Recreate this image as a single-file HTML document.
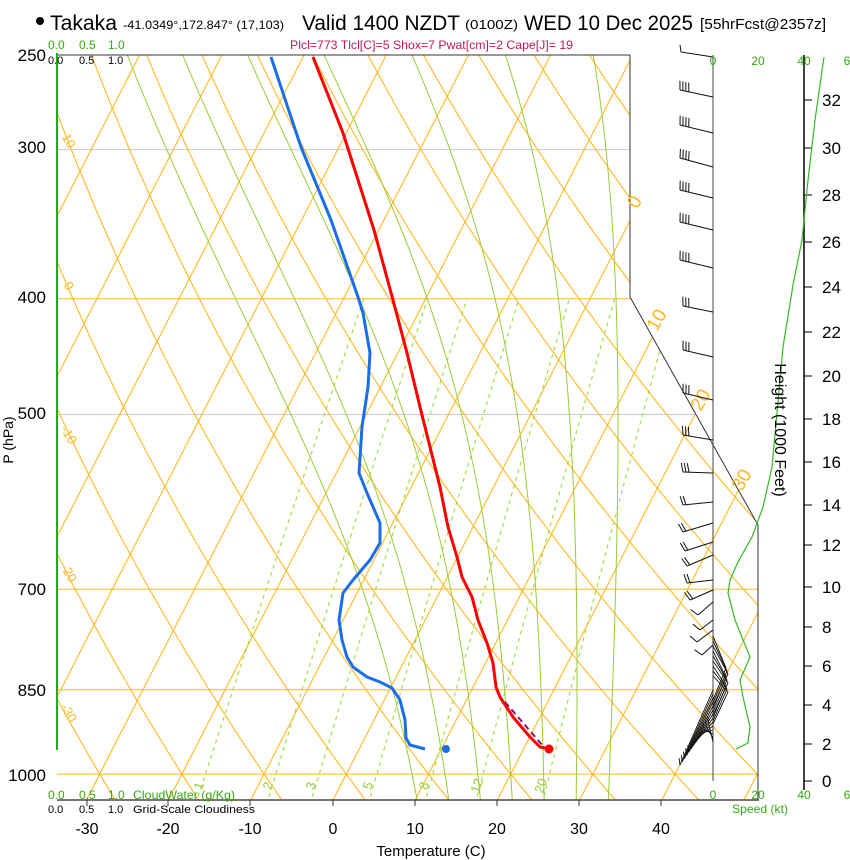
<!DOCTYPE html>
<html><head><meta charset="utf-8"><style>
html,body{margin:0;padding:0;background:#fff;}
svg{display:block;font-family:"Liberation Sans",sans-serif;}
</style></head><body>
<svg id="s" width="850" height="860" viewBox="0 0 850 860" xmlns="http://www.w3.org/2000/svg">
<defs><clipPath id="cp"><polygon points="57,55 630,55 630,297 758,525 758,800 57,800"/></clipPath></defs>
<g id="bg" clip-path="url(#cp)"></g>
<g id="fg"></g>
<!-- title -->
<circle cx="40" cy="21" r="4" fill="#000"/>
<text x="50" y="30" font-size="21" textLength="67" lengthAdjust="spacingAndGlyphs">Takaka</text>
<text x="123" y="29" font-size="12" textLength="161" lengthAdjust="spacingAndGlyphs">-41.0349°,172.847° (17,103)</text>
<text x="302" y="30" font-size="21" textLength="158" lengthAdjust="spacingAndGlyphs">Valid 1400 NZDT</text>
<text x="465" y="29" font-size="13" textLength="53" lengthAdjust="spacingAndGlyphs">(0100Z)</text>
<text x="524" y="30" font-size="21" textLength="169" lengthAdjust="spacingAndGlyphs">WED 10 Dec 2025</text>
<text x="700" y="29" font-size="15" textLength="126" lengthAdjust="spacingAndGlyphs">[55hrFcst@2357z]</text>
<text x="290" y="49" font-size="12" fill="#c0185a" textLength="283" lengthAdjust="spacingAndGlyphs">Plcl=773 Tlcl[C]=5 Shox=7 Pwat[cm]=2 Cape[J]= 19</text>
<g font-size="12" fill="#33aa11"><text x="48" y="49">0.0</text><text x="79" y="49">0.5</text><text x="108" y="49">1.0</text></g>
<g font-size="11" fill="#000"><text x="48" y="64">0.0</text><text x="79" y="64">0.5</text><text x="108" y="64">1.0</text></g>
<g font-size="12" fill="#33aa11"><text x="48" y="799">0.0</text><text x="79" y="799">0.5</text><text x="108" y="799">1.0</text><text x="133" y="799" textLength="102" lengthAdjust="spacingAndGlyphs">CloudWater (g/Kg)</text></g>
<g font-size="11" fill="#000"><text x="48" y="813">0.0</text><text x="79" y="813">0.5</text><text x="108" y="813">1.0</text><text x="133" y="813" textLength="122" lengthAdjust="spacingAndGlyphs">Grid-Scale Cloudiness</text></g>
<text x="732" y="813" font-size="12" fill="#33aa11" textLength="56" lengthAdjust="spacingAndGlyphs">Speed (kt)</text>
<g font-size="12" fill="#33aa11" text-anchor="middle"><text x="713" y="65">0</text><text x="758" y="65">20</text><text x="804" y="65">40</text><text x="847" y="65">6</text>
<text x="713" y="799">0</text><text x="758" y="799">20</text><text x="804" y="799">40</text><text x="847" y="799">6</text></g>
<g font-size="17" text-anchor="end"><text x="46" y="61">250</text><text x="46" y="153">300</text><text x="46" y="303">400</text><text x="46" y="419">500</text><text x="46" y="595">700</text><text x="46" y="696">850</text><text x="46" y="781">1000</text></g>
<text font-size="14" transform="translate(13,440) rotate(-90)" text-anchor="middle">P (hPa)</text>
<g font-size="16" text-anchor="middle"><text x="87" y="834">-30</text><text x="168" y="834">-20</text><text x="250" y="834">-10</text><text x="333" y="834">0</text><text x="415" y="834">10</text><text x="497" y="834">20</text><text x="579" y="834">30</text><text x="661" y="834">40</text></g>
<text x="431" y="856" font-size="15" text-anchor="middle">Temperature (C)</text>
<text font-size="16" transform="translate(775,430) rotate(90)" text-anchor="middle">Height (1000 Feet)</text>
</svg>
<script>
var NS="http://www.w3.org/2000/svg";
function Y(p){return 55+518.7*Math.log(p/250);}
function X(T,p){return 333+8.22*T+(800-Y(p))/1.95;}
var bg=document.getElementById('bg'),fg=document.getElementById('fg');
function el(par,tag,a,txt){var e=document.createElementNS(NS,tag);for(var k in a)e.setAttribute(k,a[k]);if(txt!==undefined)e.textContent=txt;par.appendChild(e);return e;}
function pl(par,pts,a){a.points=pts.map(function(q){return q[0].toFixed(1)+','+q[1].toFixed(1);}).join(' ');a.fill='none';return el(par,'polyline',a);}
var OR='#ffb820',GR='#99cc33';
// pressure lines
[[300,'#cccccc'],[500,'#cccccc'],[400,OR],[700,OR],[850,OR],[1000,OR]].forEach(function(a){var y=Y(a[0]);el(bg,'line',{x1:57,x2:760,y1:y,y2:y,stroke:a[1],'stroke-width':1});});
// isotherms
for(var T=-120;T<=60;T+=10){pl(bg,[[X(T,1060),Y(1060)],[X(T,240),Y(240)]],{stroke:OR,'stroke-width':1.1});}
// dry adiabats
for(var th=-60;th<=220;th+=10){var pts=[];for(var p=1060;p>=240;p-=10){var t=(th+273.15)*Math.pow(p/1000,0.2857)-273.15;pts.push([X(t,p),Y(p)]);}pl(bg,pts,{stroke:OR,'stroke-width':1.1});}
// moist adiabats
function es(t){return 6.112*Math.exp(17.67*t/(t+243.5));}
function dTdp(t,p){var Tk=t+273.15,e=es(t),rs=0.622*e/(p-e);return (287*Tk+2.5e6*rs)/(p*(1005+2.5e6*2.5e6*rs*0.622/(287*Tk*Tk)));}
[8,12,16,20,24,28,32].forEach(function(T0){var pts=[],t=T0,p;
 var down=[];t=T0;for(p=1000;p<=1060;p+=2){down.push([X(t,p),Y(p)]);t+=dTdp(t,p)*2;}
 t=T0;for(p=1000;p>=240;p-=2){pts.push([X(t,p),Y(p)]);t-=dTdp(t,p)*2;}
 pl(bg,down.reverse().concat(pts),{stroke:GR,'stroke-width':1});});
// mixing ratio
[1,2,3,5,8,12,20].forEach(function(w){var pts=[];for(var p=1060;p>=400;p-=20){var e=w*p/(622+w),l=Math.log(e/6.112),td=243.5*l/(17.67-l);pts.push([X(td,p),Y(p)]);}pl(bg,pts,{stroke:'#99dd33','stroke-width':1.1,'stroke-dasharray':'4,4'});});
// frame
el(fg,'polyline',{points:'57,55 630,55 630,297 758,525 758,800 57,800',fill:'none',stroke:'#333','stroke-width':1});
el(fg,'line',{x1:57,y1:800,x2:759,y2:800,stroke:'#554433','stroke-width':1.5});
el(fg,'line',{x1:57,y1:53,x2:57,y2:750,stroke:'#22aa22','stroke-width':2});
[87,168,250,333,415,497,579,661].forEach(function(x){el(fg,'line',{x1:x,x2:x,y1:800,y2:806,stroke:'#333'});});
// labels on lines
[['1',203,787],['2',272,787],['3',315,787],['5',372,787],['8',428,787],['12',481,787],['20',545,787]].forEach(function(a){el(fg,'text',{x:a[1],y:a[2],'font-size':13,fill:GR,'text-anchor':'middle',transform:'rotate(-72 '+a[1]+' '+a[2]+')'},a[0]);});
[['10',65,143],['0',65,288],['-10',65,437],['-20',65,575],['-30',65,715]].forEach(function(a){el(fg,'text',{x:a[1],y:a[2],'font-size':13,fill:OR,'text-anchor':'middle',transform:'rotate(60 '+a[1]+' '+a[2]+')'},a[0]);});
[['0',640,205],['10',662,323],['20',706,403],['30',747,483]].forEach(function(a){el(fg,'text',{x:a[1],y:a[2],'font-size':19,fill:OR,'text-anchor':'middle',transform:'rotate(-60 '+a[1]+' '+a[2]+')'},a[0]);});
// axes right
el(fg,'line',{x1:713,x2:713,y1:55,y2:781,stroke:'#444','stroke-width':1});
el(fg,'line',{x1:804,x2:804,y1:55,y2:790,stroke:'#000','stroke-width':1.5});
var H=[[0,781],[2,744],[4,705],[6,666],[8,627],[10,587],[12,545],[14,505],[16,462],[18,419],[20,376],[22,332],[24,287],[26,242],[28,195],[30,148],[32,100]];
H.forEach(function(h){el(fg,'line',{x1:804,x2:812,y1:h[1],y2:h[1],stroke:'#000'});el(fg,'text',{x:822,y:h[1]+6,'font-size':17},String(h[0]));});
// speed curve
pl(fg,[[824,57],[815,120],[808,180],[802,240],[793,285],[783,347],[777,413],[772,467],[763,507],[752,537],[738,562],[730,580],[728,593],[735,620],[750,657],[740,680],[743,697],[750,727],[748,743],[736,749]],{stroke:'#33bb22','stroke-width':1.2});
// wind barbs
function barb(y,x2,y2,n){var dx=x2-713,dy=y2-y,L=Math.sqrt(dx*dx+dy*dy),ux=dx/L,uy=dy/L,nx=-uy,ny=ux;if(ny>0){nx=-nx;ny=-ny;}
 el(fg,'line',{x1:713,y1:y,x2:x2,y2:y2,stroke:'#111','stroke-width':1});
 for(var i=0;i<n;i++){var bx=x2-ux*i*3,by=y2-uy*i*3;el(fg,'line',{x1:bx,y1:by,x2:bx+nx*9+ux*2,y2:by+ny*9+uy*2,stroke:'#111','stroke-width':1});}}
el(fg,'polyline',{points:'680,45 681,52 713,57',fill:'none',stroke:'#111'});
[[97,680,90,4],[133,680,125,4],[167,680,158,4],[198,680,190,4],[230,680,222,4],[268,680,260,4],[312,683,306,3],[357,683,350,3],[400,683,393,3],[440,683,435,3],[473,683,472,3],[502,683,505,2],[523,683,532,2],[542,685,551,2],[555,687,566,2],[580,687,583,2],[590,690,600,2],[602,698,615,1],[620,700,630,1],[630,697,642,1],[645,702,655,1]].forEach(function(b){barb(b[0],b[1],b[2],b[3]);});
for(var i=0;i<9;i++){pl(fg,[[713,636+i*5],[726+(i%3),668+i*3],[713,700+i*3]],{stroke:'#111','stroke-width':0.9});}
for(var i=0;i<14;i++){var y0=690+i*4,ex=680+i*2.2,ey=765-i*3.2;el(fg,'line',{x1:713,y1:y0,x2:ex,y2:ey,stroke:'#111','stroke-width':0.9});el(fg,'line',{x1:ex,y1:ey,x2:ex-1,y2:ey-7,stroke:'#111','stroke-width':0.9});}
// profiles
var blue=[[271,57],[301,147],[331,220],[358,297],[363,313],[370,353],[368,387],[362,427],[359,473],[367,493],[380,523],[380,543],[370,560],[353,580],[343,593],[339,620],[342,640],[347,657],[353,667],[367,677],[380,682],[392,688],[400,700],[405,720],[406,738],[410,745],[425,749]];
var red=[[313,57],[343,133],[374,230],[393,300],[407,353],[420,407],[430,447],[440,487],[448,527],[457,557],[462,577],[472,597],[478,620],[487,643],[493,663],[496,687],[500,697],[513,717],[530,737],[540,747],[545,748]];
pl(fg,blue,{stroke:'#1a6ee8','stroke-width':3,'stroke-linejoin':'round'});
pl(fg,red,{stroke:'#ff0000','stroke-width':3,'stroke-linejoin':'round'});
el(fg,'line',{x1:505,y1:702,x2:543,y2:746,stroke:'#801860','stroke-width':2,'stroke-dasharray':'6,4'});
el(fg,'circle',{cx:446,cy:749,r:4,fill:'#1a6ee8'});
el(fg,'circle',{cx:549,cy:749,r:4.5,fill:'#ff0000'});
</script>
</body></html>
